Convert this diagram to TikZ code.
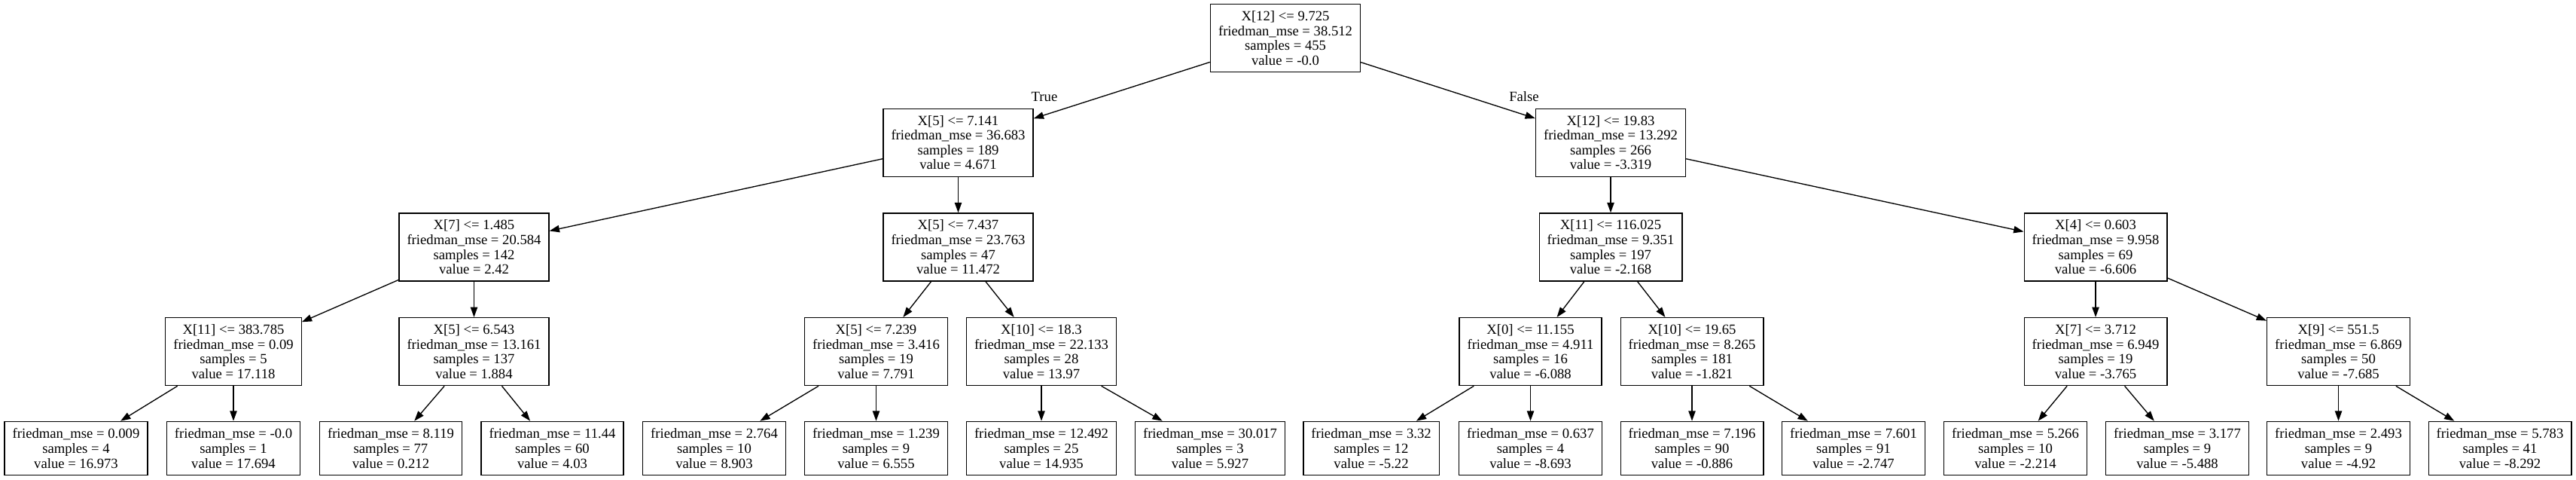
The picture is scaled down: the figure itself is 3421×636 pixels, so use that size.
\documentclass[tikz,border=0pt]{standalone}
\usepackage{fontspec}
\setmainfont{Liberation Serif}
\usetikzlibrary{arrows.meta}

\begin{document}
\begin{tikzpicture}[x=0.75pt, y=-0.75pt,
    every node/.style={font=\fontsize{14pt}{14.7pt}\selectfont, align=center, inner xsep=7.9pt, inner ysep=0pt},
    split/.style={draw, line width=1pt, minimum height=67.5pt},
    leaf/.style={draw, line width=1pt, minimum height=53.5pt},
    edge/.style={line width=1pt, -{Triangle[length=10pt,width=7pt]}}]
    \useasboundingbox (0,0) rectangle (3421,636);
    % root
    \node[split] (t) at (1707,50.5) {X[12] <= 9.725\\friedman\_mse = 38.512\\samples = 455\\value = -0.0};
    % first level
    \node[split] (tL) at (1272.5,189.2) {X[5] <= 7.141\\friedman\_mse = 36.683\\samples = 189\\value = 4.671};
    \node[split] (tR) at (2139,189.2) {X[12] <= 19.83\\friedman\_mse = 13.292\\samples = 266\\value = -3.319};
    % second level
    \node[split] (tLL) at (629.5,327.9) {X[7] <= 1.485\\friedman\_mse = 20.584\\samples = 142\\value = 2.42};
    \node[split] (tLR) at (1272.5,327.9) {X[5] <= 7.437\\friedman\_mse = 23.763\\samples = 47\\value = 11.472};
    \node[split] (tRL) at (2139,327.9) {X[11] <= 116.025\\friedman\_mse = 9.351\\samples = 197\\value = -2.168};
    \node[split] (tRR) at (2783,327.9) {X[4] <= 0.603\\friedman\_mse = 9.958\\samples = 69\\value = -6.606};
    % third level
    \node[split] (tLLL) at (310,466.6) {X[11] <= 383.785\\friedman\_mse = 0.09\\samples = 5\\value = 17.118};
    \node[split] (tLLR) at (629.5,466.6) {X[5] <= 6.543\\friedman\_mse = 13.161\\samples = 137\\value = 1.884};
    \node[split] (tLRL) at (1163.5,466.6) {X[5] <= 7.239\\friedman\_mse = 3.416\\samples = 19\\value = 7.791};
    \node[split] (tLRR) at (1383,466.6) {X[10] <= 18.3\\friedman\_mse = 22.133\\samples = 28\\value = 13.97};
    \node[split] (tRLL) at (2032.5,466.6) {X[0] <= 11.155\\friedman\_mse = 4.911\\samples = 16\\value = -6.088};
    \node[split] (tRLR) at (2247,466.6) {X[10] <= 19.65\\friedman\_mse = 8.265\\samples = 181\\value = -1.821};
    \node[split] (tRRL) at (2783,466.6) {X[7] <= 3.712\\friedman\_mse = 6.949\\samples = 19\\value = -3.765};
    \node[split] (tRRR) at (3105.5,466.6) {X[9] <= 551.5\\friedman\_mse = 6.869\\samples = 50\\value = -7.685};
    % leaves
    \node[leaf] (tLLLL) at (101,595) {friedman\_mse = 0.009\\samples = 4\\value = 16.973};
    \node[leaf] (tLLLR) at (310,595) {friedman\_mse = -0.0\\samples = 1\\value = 17.694};
    \node[leaf] (tLLRL) at (519,595) {friedman\_mse = 8.119\\samples = 77\\value = 0.212};
    \node[leaf] (tLLRR) at (733.5,595) {friedman\_mse = 11.44\\samples = 60\\value = 4.03};
    \node[leaf] (tLRLL) at (948.5,595) {friedman\_mse = 2.764\\samples = 10\\value = 8.903};
    \node[leaf] (tLRLR) at (1163.5,595) {friedman\_mse = 1.239\\samples = 9\\value = 6.555};
    \node[leaf] (tLRRL) at (1383,595) {friedman\_mse = 12.492\\samples = 25\\value = 14.935};
    \node[leaf] (tLRRR) at (1607,595) {friedman\_mse = 30.017\\samples = 3\\value = 5.927};
    \node[leaf] (tRLLL) at (1821,595) {friedman\_mse = 3.32\\samples = 12\\value = -5.22};
    \node[leaf] (tRLLR) at (2032.5,595) {friedman\_mse = 0.637\\samples = 4\\value = -8.693};
    \node[leaf] (tRLRL) at (2247,595) {friedman\_mse = 7.196\\samples = 90\\value = -0.886};
    \node[leaf] (tRLRR) at (2461.5,595) {friedman\_mse = 7.601\\samples = 91\\value = -2.747};
    \node[leaf] (tRRLL) at (2676.5,595) {friedman\_mse = 5.266\\samples = 10\\value = -2.214};
    \node[leaf] (tRRLR) at (2891.5,595) {friedman\_mse = 3.177\\samples = 9\\value = -5.488};
    \node[leaf] (tRRRL) at (3105.5,595) {friedman\_mse = 2.493\\samples = 9\\value = -4.92};
    \node[leaf] (tRRRR) at (3320,595) {friedman\_mse = 5.783\\samples = 41\\value = -8.292};
    % edges
    \draw[edge] (t) -- (tL);
    \draw[edge] (t) -- (tR);
    \draw[edge] (tL) -- (tLL);
    \draw[edge] (tL) -- (tLR);
    \draw[edge] (tR) -- (tRL);
    \draw[edge] (tR) -- (tRR);
    \draw[edge] (tLL) -- (tLLL);
    \draw[edge] (tLL) -- (tLLR);
    \draw[edge] (tLR) -- (tLRL);
    \draw[edge] (tLR) -- (tLRR);
    \draw[edge] (tRL) -- (tRLL);
    \draw[edge] (tRL) -- (tRLR);
    \draw[edge] (tRR) -- (tRRL);
    \draw[edge] (tRR) -- (tRRR);
    \draw[edge] (tLLL) -- (tLLLL);
    \draw[edge] (tLLL) -- (tLLLR);
    \draw[edge] (tLLR) -- (tLLRL);
    \draw[edge] (tLLR) -- (tLLRR);
    \draw[edge] (tLRL) -- (tLRLL);
    \draw[edge] (tLRL) -- (tLRLR);
    \draw[edge] (tLRR) -- (tLRRL);
    \draw[edge] (tLRR) -- (tLRRR);
    \draw[edge] (tRLL) -- (tRLLL);
    \draw[edge] (tRLL) -- (tRLLR);
    \draw[edge] (tRLR) -- (tRLRL);
    \draw[edge] (tRLR) -- (tRLRR);
    \draw[edge] (tRRL) -- (tRRLL);
    \draw[edge] (tRRL) -- (tRRLR);
    \draw[edge] (tRRR) -- (tRRRL);
    \draw[edge] (tRRR) -- (tRRRR);
    % branch labels
    \node (lTrue) at (1387,128) {True};
    \node (lFalse) at (2024,128) {False};
\end{tikzpicture}
\end{document}
